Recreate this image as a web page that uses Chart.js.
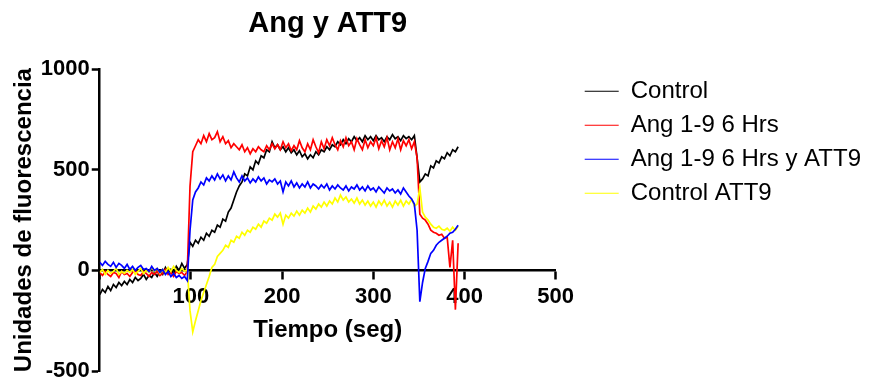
<!DOCTYPE html>
<html>
<head>
<meta charset="utf-8">
<title>Ang y ATT9</title>
<script src="https://cdn.jsdelivr.net/npm/chart.js@4.4.1/dist/chart.umd.min.js"></script>
<style>
  body { margin: 0; background: #fff; }
</style>
</head>
<body>
<canvas id="grafico" width="879" height="379"></canvas>
<script>
// Lecturas cada 3 s (0 a 393 s)
const tiempo = Array.from({ length: 132 }, (_, i) => i * 3);

const nombres = ["Control", "Ang 1-9 6 Hrs", "Ang 1-9 6 Hrs y ATT9", "Control ATT9"];
const colores = ["#000000", "#ff0000", "#0000ff", "#ffff00"];

const control = [
  -120, -95, -110, -80, -100, -70, -85, -60, -75, -55,
  -70, -45, -60, -35, -50, -40, -20, -45, -25, -35,
  -10, -30, -5, -20, 15, -10, 5, -15, 20, 0,
  35, 10, 30, 140, 120, 150, 135, 165, 150, 185,
  170, 200, 190, 225, 215, 255, 245, 290, 310, 350,
  390, 420, 440, 480, 470, 515, 500, 545, 530, 570,
  560, 600, 590, 640, 610, 625, 600, 615, 590, 610,
  585, 600, 575, 595, 565, 580, 555, 575, 560, 590,
  575, 600, 590, 615, 600, 625, 615, 640, 625, 650,
  630, 655, 640, 665, 645, 660, 640, 670, 650, 665,
  645, 670, 650, 660, 640, 665, 650, 675, 655, 665,
  645, 670, 655, 665, 650, 670, 560, 440, 455, 480,
  470, 520, 510, 545, 535, 565, 555, 585, 570, 600,
  590, 615
];

const ang19 = [
  -10, -25, -5, -20, -30, -10, -15, -35, -5, -20,
  -15, -30, -10, 0, -20, -25, -5, -15, -30, -10,
  -20, -5, -25, -15, 5, -20, -10, -30, -5, -15,
  -10, -25, -5, 420, 590, 620, 650, 630, 670, 640,
  680, 650, 660, 690, 640, 665, 630, 645, 610, 630,
  615, 600, 625, 590, 610, 580, 605, 590, 615, 600,
  590, 620, 600, 630, 605, 625, 600, 640, 610, 630,
  595, 620, 600, 645, 610, 590, 630, 600, 650, 615,
  585, 640, 605, 650, 620, 660, 625, 600, 645, 615,
  660, 620, 640, 600, 655, 625, 600, 650, 610, 640,
  620, 660, 605, 645, 615, 660, 600, 640, 610, 655,
  600, 645, 620, 650, 605, 640, 560, 280, 260, 250,
  230, 200, 190, 185, 175, 180, 160, 165, 15, 150,
  -195, 135
];

const ang19Att9 = [
  40, 25, 45, 30, 20, 40, 15, 35, 25, 10,
  30, 5, 20, 0, 15, 25, 5, 10, -5, 20,
  0, 10, -10, 5, -20, -5, -30, -15, -35, -25,
  -40, -30, -50, 200, 350, 390, 410, 440, 425, 460,
  445, 470, 450, 480, 455, 475, 445, 470, 450, 490,
  460, 440, 470, 445, 460, 435, 455, 440, 465, 445,
  460, 430, 450, 440, 455, 430, 445, 390, 440, 420,
  445, 415, 435, 410, 430, 415, 440, 410, 430, 420,
  405, 425, 410, 430, 400, 420, 405, 425, 410, 400,
  420, 395, 415, 405, 425, 400, 415, 395, 420, 400,
  410, 390, 415, 400, 385, 410, 395, 405, 385, 400,
  380, 410, 390, 370, 355, 330, 200, -155, -60, 10,
  45, 85, 100, 125, 140, 150, 160, 170, 185, 190,
  205, 225
];

const controlAtt9 = [
  -10, 5, -20, 0, -15, -5, 10, -20, -5, -15,
  0, -10, 5, -20, -5, 10, -15, 0, -10, 15,
  -5, 10, -15, 5, -10, 15, -5, 20, 0, -10,
  10, -5, 5, -200, -305, -250, -200, -150, -110, -70,
  -30, 15, 30, 70, 85, 100, 125, 115, 150, 140,
  170, 160, 190, 175, 200, 190, 215, 205, 230, 215,
  245, 235, 260, 250, 280, 265, 285, 230, 275, 260,
  285, 270, 295, 275, 300, 285, 310, 290, 320, 305,
  330, 315, 340, 320, 345, 330, 360, 340, 375, 350,
  365, 340, 355, 335, 360, 330, 350, 325, 345, 320,
  340, 315, 345, 325, 350, 320, 340, 315, 345, 325,
  350, 320, 345, 330, 355, 320, 330, 410, 290, 265,
  250, 230, 215, 210, 220, 205, 200, 210, 195, 215,
  200, 220
];

const series = [control, ang19, ang19Att9, controlAtt9];
const orden = [4, 3, 1, 2];

const fuente = 'Arial, "Liberation Sans", sans-serif';
Chart.defaults.font.family = fuente;
Chart.defaults.color = "#000";

const datasets = series.map((valores, k) => ({
  label: nombres[k],
  data: valores.map((v, i) => ({ x: tiempo[i], y: v })),
  borderColor: colores[k],
  backgroundColor: colores[k],
  borderWidth: 1.7,
  pointRadius: 0,
  tension: 0,
  fill: false,
  order: orden[k]
}));

new Chart(document.getElementById("grafico"), {
  type: "line",
  data: { datasets },
  options: {
    responsive: false,
    animation: false,
    layout: { padding: { left: 0, right: 8, top: 0, bottom: 8 } },
    scales: {
      x: {
        type: "linear",
        position: { y: 0 },
        min: 0,
        max: 500,
        ticks: {
          stepSize: 100,
          padding: 5,
          font: { size: 22, weight: "bold" },
          callback: v => (v === 0 ? "" : String(v))
        },
        grid: { drawOnChartArea: false, tickLength: 8, tickWidth: 2.5, tickColor: "#000" },
        border: { color: "#000", width: 2.5 },
        title: {
          display: true,
          text: "Tiempo (seg)",
          font: { size: 24, weight: "bold" },
          padding: { top: 1, bottom: 4 }
        }
      },
      y: {
        position: "left",
        min: -500,
        max: 1000,
        ticks: {
          stepSize: 500,
          padding: 2,
          font: { size: 22, weight: "bold" },
          callback: v => String(v)
        },
        grid: { drawOnChartArea: false, tickLength: 8, tickWidth: 2.5, tickColor: "#000" },
        border: { color: "#000", width: 2.5 },
        title: {
          display: true,
          text: "Unidades de fluorescencia",
          font: { size: 24, weight: "bold" },
          padding: { top: 10, bottom: 0 }
        },
        // las etiquetas extremas pueden salirse del área
        afterFit: s => { s.paddingTop = 0; s.paddingBottom = 0; }
      },
      // hueco entre el área del gráfico y la leyenda
      margen: {
        position: "right",
        min: -500,
        max: 1000,
        grid: { display: false },
        border: { display: false },
        ticks: { display: false },
        afterFit: s => { s.width = 19; }
      }
    },
    plugins: {
      title: {
        display: true,
        text: "Ang y ATT9",
        fullSize: false,
        font: { size: 29, weight: "bold" },
        padding: { top: 7, bottom: 27.5 }
      },
      legend: {
        position: "right",
        align: "start",
        fullSize: false,
        maxWidth: 400,
        labels: {
          boxWidth: 34,
          boxHeight: 1,
          padding: 10,
          font: { size: 24 },
          sort: (a, b) => a.datasetIndex - b.datasetIndex,
          generateLabels: chart =>
            Chart.defaults.plugins.legend.labels.generateLabels(chart).map(l => ({ ...l, lineWidth: 0 }))
        }
      },
      tooltip: { enabled: false }
    }
  }
});
</script>
</body>
</html>
